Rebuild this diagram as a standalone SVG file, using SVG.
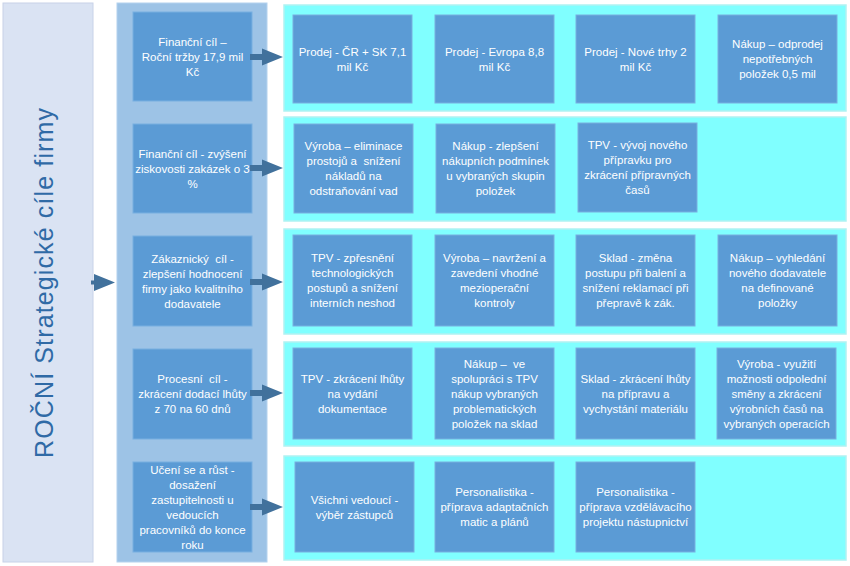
<svg xmlns="http://www.w3.org/2000/svg" width="850" height="566" viewBox="0 0 850 566">
<style>
.bg{fill:#ffffff}
.left{fill:#dae3f3;stroke:#c8d2e8;stroke-width:1}
.mid{fill:#9dc3e6;stroke:#b4d2ee;stroke-width:1}
.row{fill:#80ffff;stroke:#b0f2f2;stroke-width:1.5}
.box{fill:#5b9bd5;stroke:#78afe0;stroke-width:1}
.t{font-family:"Liberation Sans","Noto Sans",Arial,sans-serif;font-size:11.5px;fill:#ffffff;text-anchor:middle;white-space:pre}
.title{font-family:"Liberation Sans","Noto Sans",Arial,sans-serif;font-size:25px;fill:#2f6aa6;text-anchor:middle}
.arr{fill:#41719c}
</style>
<rect class="bg" x="0" y="0" width="850" height="566"/>

<g id="title">
<rect class="left" x="3" y="3" width="90" height="559"/>
<text class="title" transform="translate(53,283) rotate(-90)" x="0" y="0" textLength="350" lengthAdjust="spacing">ROČNÍ Strategické cíle firmy</text>
</g>

<g id="midpanel"><rect class="mid" x="117" y="3" width="150" height="559"/></g>

<g id="row1"><rect class="row" x="284" y="5" width="562" height="106"/></g>
<g id="row2"><rect class="row" x="284" y="117" width="562" height="104"/></g>
<g id="row3"><rect class="row" x="284" y="229" width="562" height="105"/></g>
<g id="row4"><rect class="row" x="284" y="342" width="562" height="104"/></g>
<g id="row5"><rect class="row" x="284" y="456" width="562" height="104"/></g>

<g id="m1"><rect class="box" x="133" y="12" width="119" height="89"/>
<text class="t" y="45.5"><tspan x="192.5">Finanční cíl –</tspan><tspan x="192.5" dy="15">Roční tržby 17,9 mil</tspan><tspan x="192.5" dy="15">Kč</tspan></text></g>
<g id="m2"><rect class="box" x="133" y="124" width="119" height="89"/>
<text class="t" y="157.5"><tspan x="192.5">Finanční cíl - zvýšení</tspan><tspan x="192.5" dy="15">ziskovosti zakázek o 3</tspan><tspan x="192.5" dy="15">%</tspan></text></g>
<g id="m3"><rect class="box" x="133" y="236" width="119" height="90"/>
<text class="t" y="262.5"><tspan x="192.5">Zákaznický  cíl -</tspan><tspan x="192.5" dy="15">zlepšení hodnocení</tspan><tspan x="192.5" dy="15">firmy jako kvalitního</tspan><tspan x="192.5" dy="15">dodavatele</tspan></text></g>
<g id="m4"><rect class="box" x="133" y="349" width="119" height="90"/>
<text class="t" y="383"><tspan x="192.5">Procesní  cíl -</tspan><tspan x="192.5" dy="15">zkrácení dodací lhůty</tspan><tspan x="192.5" dy="15">z 70 na 60 dnů</tspan></text></g>
<g id="m5"><rect class="box" x="133" y="462" width="119" height="90"/>
<text class="t" y="473.5"><tspan x="192.5">Učení se a růst -</tspan><tspan x="192.5" dy="15">dosažení</tspan><tspan x="192.5" dy="15">zastupitelnosti u</tspan><tspan x="192.5" dy="15">vedoucích</tspan><tspan x="192.5" dy="15">pracovníků do konce</tspan><tspan x="192.5" dy="15">roku</tspan></text></g>

<g id="r1b1"><rect class="box" x="293" y="15" width="119" height="88"/>
<text class="t" y="55.5"><tspan x="352.5">Prodej - ČR + SK 7,1</tspan><tspan x="352.5" dy="15">mil Kč</tspan></text></g>
<g id="r1b2"><rect class="box" x="435" y="15" width="119" height="88"/>
<text class="t" y="55.5"><tspan x="494.5">Prodej - Evropa 8,8</tspan><tspan x="494.5" dy="15">mil Kč</tspan></text></g>
<g id="r1b3"><rect class="box" x="576" y="15" width="119" height="88"/>
<text class="t" y="55.5"><tspan x="635.5">Prodej - Nové trhy 2</tspan><tspan x="635.5" dy="15">mil Kč</tspan></text></g>
<g id="r1b4"><rect class="box" x="718" y="15" width="119" height="88"/>
<text class="t" y="48"><tspan x="777.5">Nákup – odprodej</tspan><tspan x="777.5" dy="15">nepotřebných</tspan><tspan x="777.5" dy="15">položek 0,5 mil</tspan></text></g>

<g id="r2b1"><rect class="box" x="294" y="124" width="119" height="89"/>
<text class="t" y="150"><tspan x="353.5">Výroba – eliminace</tspan><tspan x="353.5" dy="15">prostojů a  snížení</tspan><tspan x="353.5" dy="15">nákladů na</tspan><tspan x="353.5" dy="15">odstraňování vad</tspan></text></g>
<g id="r2b2"><rect class="box" x="436" y="124" width="119" height="89"/>
<text class="t" y="150"><tspan x="495.5">Nákup - zlepšení</tspan><tspan x="495.5" dy="15">nákupních podmínek</tspan><tspan x="495.5" dy="15">u vybraných skupin</tspan><tspan x="495.5" dy="15">položek</tspan></text></g>
<g id="r2b3"><rect class="box" x="578" y="123" width="119" height="89"/>
<text class="t" y="149"><tspan x="637.5">TPV - vývoj nového</tspan><tspan x="637.5" dy="15">přípravku pro</tspan><tspan x="637.5" dy="15">zkrácení přípravných</tspan><tspan x="637.5" dy="15">časů</tspan></text></g>

<g id="r3b1"><rect class="box" x="293" y="235" width="119" height="91"/>
<text class="t" y="262"><tspan x="352.5">TPV - zpřesnění</tspan><tspan x="352.5" dy="15">technologických</tspan><tspan x="352.5" dy="15">postupů a snížení</tspan><tspan x="352.5" dy="15">interních neshod</tspan></text></g>
<g id="r3b2"><rect class="box" x="435" y="235" width="119" height="91"/>
<text class="t" y="262"><tspan x="494.5">Výroba – navržení a</tspan><tspan x="494.5" dy="15">zavedení vhodné</tspan><tspan x="494.5" dy="15">mezioperační</tspan><tspan x="494.5" dy="15">kontroly</tspan></text></g>
<g id="r3b3"><rect class="box" x="576" y="235" width="119" height="91"/>
<text class="t" y="262"><tspan x="635.5">Sklad - změna</tspan><tspan x="635.5" dy="15">postupu při balení a</tspan><tspan x="635.5" dy="15">snížení reklamací při</tspan><tspan x="635.5" dy="15">přepravě k zák.</tspan></text></g>
<g id="r3b4"><rect class="box" x="718" y="235" width="119" height="91"/>
<text class="t" y="262"><tspan x="777.5">Nákup – vyhledání</tspan><tspan x="777.5" dy="15">nového dodavatele</tspan><tspan x="777.5" dy="15">na definované</tspan><tspan x="777.5" dy="15">položky</tspan></text></g>

<g id="r4b1"><rect class="box" x="293" y="348" width="119" height="91"/>
<text class="t" y="382.5"><tspan x="352.5">TPV - zkrácení lhůty</tspan><tspan x="352.5" dy="15">na vydání</tspan><tspan x="352.5" dy="15">dokumentace</tspan></text></g>
<g id="r4b2"><rect class="box" x="435" y="348" width="119" height="91"/>
<text class="t" y="367.5"><tspan x="494.5">Nákup –  ve</tspan><tspan x="494.5" dy="15">spolupráci s TPV</tspan><tspan x="494.5" dy="15">nákup vybraných</tspan><tspan x="494.5" dy="15">problematických</tspan><tspan x="494.5" dy="15">položek na sklad</tspan></text></g>
<g id="r4b3"><rect class="box" x="576" y="348" width="119" height="91"/>
<text class="t" y="382.5"><tspan x="635.5">Sklad - zkrácení lhůty</tspan><tspan x="635.5" dy="15">na přípravu a</tspan><tspan x="635.5" dy="15">vychystání materiálu</tspan></text></g>
<g id="r4b4"><rect class="box" x="717" y="348" width="119" height="91"/>
<text class="t" y="367.5"><tspan x="776.5">Výroba - využití</tspan><tspan x="776.5" dy="15">možnosti odpolední</tspan><tspan x="776.5" dy="15">směny a zkrácení</tspan><tspan x="776.5" dy="15">výrobních časů na</tspan><tspan x="776.5" dy="15">vybraných operacích</tspan></text></g>

<g id="r5b1"><rect class="box" x="295" y="462" width="119" height="90"/>
<text class="t" y="503.5"><tspan x="354.5">Všichni vedoucí -</tspan><tspan x="354.5" dy="15">výběr zástupců</tspan></text></g>
<g id="r5b2"><rect class="box" x="435" y="462" width="119" height="90"/>
<text class="t" y="496"><tspan x="494.5">Personalistika -</tspan><tspan x="494.5" dy="15">příprava adaptačních</tspan><tspan x="494.5" dy="15">matic a plánů</tspan></text></g>
<g id="r5b3"><rect class="box" x="576" y="462" width="119" height="90"/>
<text class="t" y="496"><tspan x="635.5">Personalistika -</tspan><tspan x="635.5" dy="15">příprava vzdělávacího</tspan><tspan x="635.5" dy="15">projektu nástupnictví</tspan></text></g>

<g id="connectors">
<path class="arr" d="M91,280.5 L94,280.5 L94,274 L115,282.5 L94,291 L94,284.5 L91,284.5 Z"/>
<path class="arr" d="M250,54 L262,54 L262,48.5 L283,57 L262,65.5 L262,60 L250,60 Z"/>
<path class="arr" d="M250,165 L262,165 L262,159.5 L283,168 L262,176.5 L262,171 L250,171 Z"/>
<path class="arr" d="M250,279 L262,279 L262,273.5 L283,282 L262,290.5 L262,285 L250,285 Z"/>
<path class="arr" d="M250,390 L262,390 L262,384.5 L283,393 L262,401.5 L262,396 L250,396 Z"/>
<path class="arr" d="M250,504 L262,504 L262,498.5 L283,507 L262,515.5 L262,510 L250,510 Z"/>
</g>
</svg>
